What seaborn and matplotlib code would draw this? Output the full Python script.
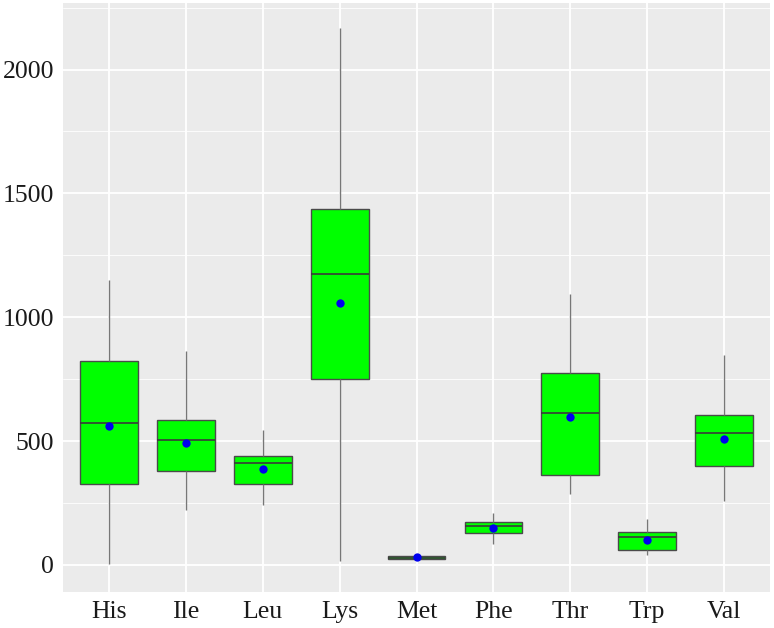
import numpy as np
import pandas as pd
import seaborn as sns
import matplotlib.pyplot as plt
from matplotlib.ticker import MultipleLocator

# ======================================
# DATA
# ======================================
acids = ["His", "Ile", "Leu", "Lys", "Met", "Phe", "Thr", "Trp", "Val"]
tick_labels = ["His", "Ile", "Leu", "Lys", "Met", "Phe", "Thr", "Trp", "Val"]

whisker_low = [4, 220, 242, 14, 18, 85, 285, 40, 258]
q1 = [327, 380, 325, 752, 24, 129, 363, 59, 398]
median = [574, 504, 413, 1173, 30, 156, 614, 112, 534]
q3 = [822, 587, 441, 1435, 37, 175, 775, 135, 605]
whisker_high = [1151, 862, 543, 2166, 44, 208, 1092, 185, 849]
means = [560, 493, 389, 1058, 31, 151, 597, 102, 509]

# five summary points per group -> quartiles reproduce exactly
rows = []
for i, a in enumerate(acids):
    for v in (whisker_low[i], q1[i], median[i], q3[i], whisker_high[i]):
        rows.append({"acid": a, "value": v})
df = pd.DataFrame(rows)
df_mean = pd.DataFrame({"acid": acids, "value": means})

# ======================================
# STYLE
# ======================================
sns.set_theme(style="darkgrid", rc={
    "axes.facecolor": "#EBEBEB",
    "grid.color": "white",
    "axes.edgecolor": "#EBEBEB",
})
plt.rcParams["font.family"] = ["Liberation Serif", "DejaVu Serif"]

fig = plt.figure(figsize=(7.74, 6.28), dpi=100)
ax = fig.add_axes([0.0814, 0.0578, 0.9136, 0.9372])

edge = "#4a4a4a"
sns.boxplot(
    data=df, x="acid", y="value", order=acids, ax=ax,
    color="#00FF00", saturation=1, width=0.75, whis=np.inf,
    linecolor=edge, linewidth=1.0, showcaps=False,
    whiskerprops={"color": "#777777", "linewidth": 1.0},
    medianprops={"color": "#3a3a3a", "linewidth": 1.2},
)
sns.stripplot(
    data=df_mean, x="acid", y="value", order=acids, ax=ax,
    jitter=False, color="#0000EE", size=6, zorder=5,
)

ax.set_xlim(-0.6, 8.6)
ax.set_ylim(-108, 2268)
ax.yaxis.set_major_locator(MultipleLocator(500))
ax.yaxis.set_minor_locator(MultipleLocator(250))
ax.set_xticks(range(len(acids)))
ax.set_xticklabels(tick_labels)

ax.grid(which="major", color="white", linewidth=1.3)
ax.grid(which="minor", axis="y", color="white", linewidth=0.6)
ax.set_axisbelow(True)

ax.tick_params(axis="both", which="major", length=3.5, width=0.8, color="#4d4d4d",
               labelsize=18.5, labelcolor="#1a1a1a", pad=3)
ax.tick_params(axis="both", which="minor", length=0)
ax.set_xlabel("")
ax.set_ylabel("")
for s in ax.spines.values():
    s.set_visible(False)

fig.savefig("out.png", dpi=100)
